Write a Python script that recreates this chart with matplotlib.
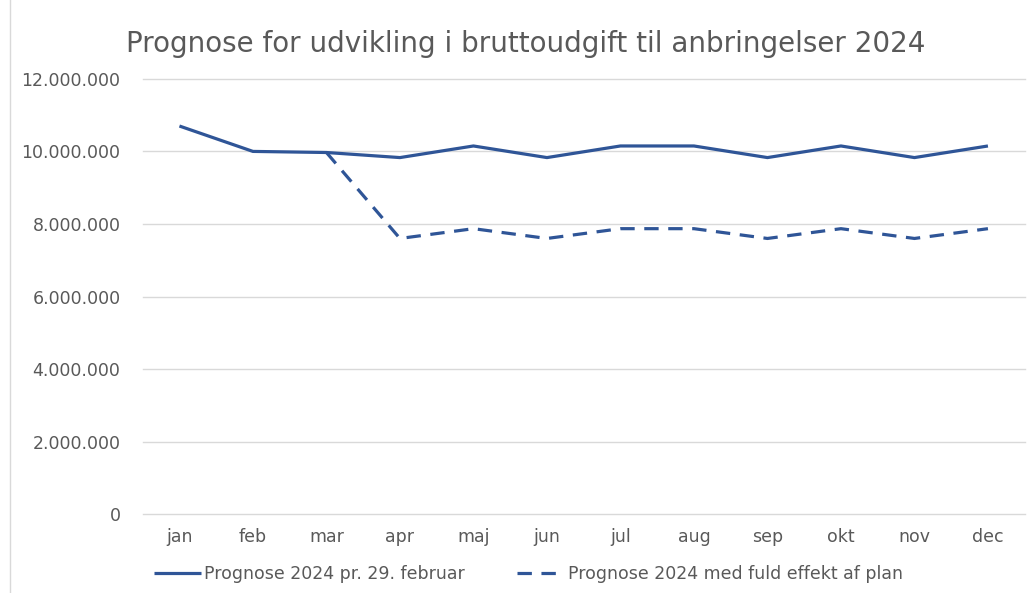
from matplotlib import pyplot as plt
from matplotlib.ticker import FuncFormatter
from matplotlib.lines import Line2D
import numpy as np

plt.rcParams['font.family'] = ['DejaVu Sans']

months = ['jan', 'feb', 'mar', 'apr', 'maj', 'jun', 'jul', 'aug', 'sep', 'okt', 'nov', 'dec']
prognose_feb = [10.70, 10.00, 9.97, 9.83, 10.15, 9.83, 10.15, 10.15, 9.83, 10.15, 9.83, 10.15]
prognose_plan = [np.nan, np.nan, 9.97, 7.60, 7.87, 7.60, 7.87, 7.87, 7.60, 7.87, 7.60, 7.87]

blue = '#2F5597'
grey = '#595959'

fig = plt.figure(figsize=(10.34, 5.93), dpi=100)
ax = fig.add_axes([0.138, 0.133, 0.853, 0.734])

x = np.arange(len(months))
ax.plot(x, np.array(prognose_feb) * 1e6, color=blue, lw=2.3,
        label='Prognose 2024 pr. 29. februar', solid_capstyle='butt')
ax.plot(x, np.array(prognose_plan) * 1e6, color=blue, lw=2.3, dashes=(4.5, 3),
        label='Prognose 2024 med fuld effekt af plan', dash_capstyle='butt')

ax.set_xlim(-0.5, len(months) - 0.5)
ax.set_ylim(0, 12e6)
ax.set_yticks(np.arange(0, 12e6 + 1, 2e6))
ax.yaxis.set_major_formatter(FuncFormatter(lambda v, p: f'{v:,.0f}'.replace(',', '.')))
ax.set_xticks(x)
ax.set_xticklabels(months)
ax.tick_params(axis='y', length=0, pad=16, labelsize=12.5, labelcolor=grey)
ax.tick_params(axis='x', length=0, pad=10, labelsize=12.5, labelcolor=grey)
ax.grid(axis='y', color='#D9D9D9', lw=1)
for gl in ax.get_ygridlines():
    gl.set_clip_on(False)
ax.set_axisbelow(True)
for s in ax.spines.values():
    s.set_visible(False)

fig.text(0.508, 0.926, 'Prognose for udvikling i bruttoudgift til anbringelser 2024',
         ha='center', va='center', fontsize=20, color=grey)

ax.legend(loc='center', bbox_to_anchor=(0.511, 0.032), bbox_transform=fig.transFigure,
          ncol=2, frameon=False, fontsize=12.5, labelcolor=grey,
          handlelength=2.7, handletextpad=0.2, columnspacing=3.0)

fig.add_artist(Line2D([10 / 1034, 10 / 1034], [0, 1], color='#D9D9D9', lw=1,
                      transform=fig.transFigure))

fig.savefig('out.png', dpi=100)
